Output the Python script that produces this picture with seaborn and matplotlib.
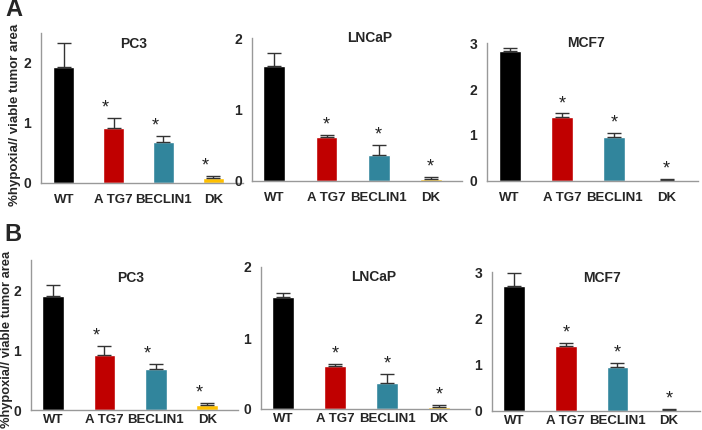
import numpy as np
import pandas as pd
import matplotlib
matplotlib.use("Agg")
import matplotlib.pyplot as plt
import seaborn as sns

groups = ["WT", "A TG7", "BECLIN1", "DK"]
colors = ["#000000", "#C00000", "#31859C", "#FFC000"]

# panel A
pc3_a = [1.94, 0.91, 0.69, 0.08]
pc3_a_err = [0.40, 0.17, 0.09, 0.04]
lncap_a = [1.61, 0.61, 0.37, 0.03]
lncap_a_err = [0.18, 0.03, 0.13, 0.03]
mcf7_a = [2.82, 1.40, 0.96, 0.02]
mcf7_a_err = [0.07, 0.07, 0.08, 0.02]

# panel B
pc3_b = [1.90, 0.91, 0.69, 0.08]
pc3_b_err = [0.18, 0.16, 0.08, 0.04]
lncap_b = [1.58, 0.61, 0.37, 0.03]
lncap_b_err = [0.05, 0.03, 0.13, 0.03]
mcf7_b = [2.70, 1.40, 0.95, 0.02]
mcf7_b_err = [0.27, 0.07, 0.08, 0.02]

sig = [False, True, True, True]

sns.set_style("white")
plt.rcParams["font.family"] = ["Liberation Sans", "DejaVu Sans"]
plt.rcParams["font.weight"] = "bold"

W, H = 702, 430
fig = plt.figure(figsize=(W / 100, H / 100), dpi=100)


def px_axes(left, top, right, bottom):
    return fig.add_axes([left / W, 1 - bottom / H, (right - left) / W, (bottom - top) / H])


def panel(ax, title, vals, errs, ymax, yticks, star_dx, title_xy, xpad, x0=-0.43):
    df = pd.DataFrame({"group": groups, "value": vals})
    sns.barplot(data=df, x="group", y="value", hue="group", palette=colors,
                width=0.42, errorbar=None, legend=False, saturation=1, ax=ax)
    x = np.arange(len(groups))
    ax.errorbar(x, vals, yerr=[np.zeros(len(vals)), errs], fmt="none",
                ecolor="#333333", elinewidth=1.0, capsize=5, capthick=1.0)
    for i in range(len(groups)):
        if sig[i]:
            ax.annotate("*", (x[i], vals[i] + errs[i]), xytext=(star_dx, 1),
                        textcoords="offset points", ha="center", va="bottom",
                        fontsize=13, fontweight="normal", color="#222222")
    ax.set_xlim(x0, 3.6)
    ax.set_ylim(0, ymax)
    ax.set_yticks(yticks)
    ax.set_xlabel("")
    ax.set_ylabel("")
    ax.set_xticks(x)
    ax.set_xticklabels(groups, fontsize=9.5, fontweight="bold")
    ax.set_xticks([0.5, 1.5, 2.5], minor=True)
    ax.tick_params(axis="x", which="major", length=0, pad=xpad)
    ax.tick_params(axis="x", which="minor", length=4, color="#999999", direction="out")
    ax.tick_params(axis="y", length=5, color="#999999", direction="out", labelsize=10, pad=2)
    for lab in ax.get_yticklabels():
        lab.set_fontweight("bold")
    for s in ["top", "right"]:
        ax.spines[s].set_visible(False)
    for s in ["left", "bottom"]:
        ax.spines[s].set_color("#999999")
        ax.spines[s].set_linewidth(1.0)
    ax.text(title_xy[0], title_xy[1], title, transform=ax.transAxes, ha="center",
            va="center", fontsize=10, fontweight="bold", clip_on=False)


# row A
panel(px_axes(41, 33, 243, 183), "PC3", pc3_a, pc3_a_err, 2.5, [0, 1, 2], -6, (0.46, 0.93), 8, -0.46)
panel(px_axes(252, 38, 462, 181), "LNCaP", lncap_a, lncap_a_err, 2.0, [0, 1, 2], 0, (0.56, 1.0), 8)
panel(px_axes(487, 43, 698, 181), "MCF7", mcf7_a, mcf7_a_err, 3.0, [0, 1, 2, 3], 0, (0.47, 1.0), 8)

# row B
panel(px_axes(31, 260, 238, 410), "PC3", pc3_b, pc3_b_err, 2.5, [0, 1, 2], -6, (0.48, 0.88), 3)
panel(px_axes(261, 267, 470, 409), "LNCaP", lncap_b, lncap_b_err, 2.0, [0, 1, 2], 0, (0.54, 0.93), 3)
panel(px_axes(492, 272, 700, 411), "MCF7", mcf7_b, mcf7_b_err, 3.0, [0, 1, 2, 3], 0, (0.53, 0.96), 3)

fig.text(5 / W, 1 - 10 / H, "A", fontsize=17, fontweight="bold", ha="left", va="center")
fig.text(4 / W, 1 - 234 / H, "B", fontsize=17, fontweight="bold", ha="left", va="center")
fig.text(15 / W, 1 - 115 / H, "%hypoxia// viable tumor area", rotation=90,
         fontsize=9.5, fontweight="bold", ha="center", va="center")
fig.text(7 / W, 1 - 339 / H, "%hypoxia// viable tumor area", rotation=90,
         fontsize=9.3, fontweight="bold", ha="center", va="center")

fig.savefig("out.png", dpi=100)
